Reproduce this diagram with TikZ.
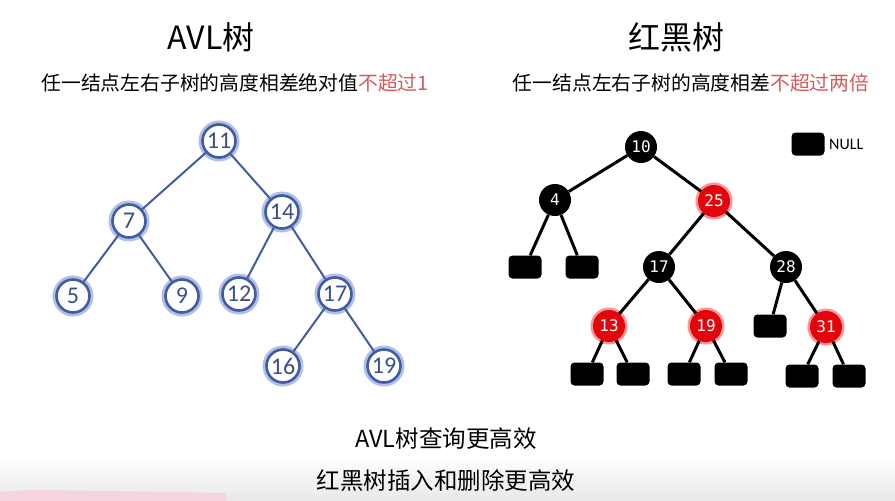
\documentclass[tikz,border=0pt]{standalone}
\usepackage{fontspec}
\setmainfont{Carlito}
\newfontfamily\cjk{Noto Sans CJK SC}
\newfontfamily\monof{DejaVu Sans Mono}
\definecolor{avlblue}{RGB}{66,92,160}
\definecolor{avltext}{RGB}{58,78,138}
\definecolor{avlglow}{RGB}{176,192,232}
\definecolor{rbred}{RGB}{226,6,12}
\definecolor{rbglow}{RGB}{246,150,150}
\definecolor{hl}{RGB}{212,92,92}
\definecolor{pinkstrip}{RGB}{246,212,222}
\tikzset{
  avl/.style={circle, draw=avlblue, line width=2.6pt, fill=white, minimum size=33pt, inner sep=0pt,
    text=avltext, font=\fontsize{24}{24}\selectfont, preaction={draw=avlglow, line width=8pt}},
  rbb/.style={circle, fill=black, minimum size=32pt, inner sep=0pt, text=white,
    font=\monof\fontsize{16}{16}\selectfont},
  rbr/.style={rbb, fill=rbred, preaction={draw=rbglow, line width=5pt}},
  nullbox/.style={rectangle, rounded corners=4pt, fill=black, minimum width=33pt, minimum height=23pt, inner sep=0pt},
  avledge/.style={draw=avlblue, line width=2pt},
  rbedge/.style={draw=black, line width=3pt},
  title/.style={font=\cjk\fontsize{32}{32}\selectfont, text=black},
  sub/.style={font=\cjk\fontsize{19.8}{20}\selectfont, text=black, inner sep=0pt},
  bottom/.style={font=\cjk\fontsize{23.5}{24}\selectfont, text=black, inner sep=0pt}
}
\begin{document}
\begin{tikzpicture}[x=1pt, y=-1pt]
\useasboundingbox (0,0) rectangle (895,501);
\fill[white] (0,0) rectangle (895,501);
\shade[top color=white, bottom color=black!9] (0,455) rectangle (895,501);
\fill[pinkstrip] (0,492) -- (30,490) -- (110,491) -- (226,493) -- (226,501) -- (0,501) -- cycle;

% titles
\node[title] (t1) at (211,37) {AVL树};
\node[title] (t2) at (676,37) {红黑树};
\node[sub] (s1) at (235,83) {任一结点左右子树的高度相差绝对值\textcolor{hl}{不超过1}};
\node[sub] (s2) at (691,83) {任一结点左右子树的高度相差\textcolor{hl}{不超过两倍}};

% AVL tree
\node[avl] (a11) at (219,141) {11};
\node[avl] (a7) at (129,221) {7};
\node[avl] (a14) at (282,212) {14};
\node[avl] (a5) at (73,296) {5};
\node[avl] (a9) at (182,296) {9};
\node[avl] (a12) at (239,294) {12};
\node[avl] (a17) at (335,294) {17};
\node[avl] (a16) at (283,366) {16};
\node[avl] (a19) at (384,366) {19};
\draw[avledge] (a11) -- (a7);
\draw[avledge] (a11) -- (a14);
\draw[avledge] (a7) -- (a5);
\draw[avledge] (a7) -- (a9);
\draw[avledge] (a14) -- (a12);
\draw[avledge] (a14) -- (a17);
\draw[avledge] (a17) -- (a16);
\draw[avledge] (a17) -- (a19);

% Red-black tree
\node[rbb] (r10) at (641,147) {10};
\node[rbb] (r4) at (555,200) {4};
\node[rbr] (r25) at (714,201) {25};
\node[rbb] (r17) at (659,267) {17};
\node[rbb] (r28) at (786,267) {28};
\node[rbr] (r13) at (609,326) {13};
\node[rbr] (r19) at (706,326) {19};
\node[rbr] (r31) at (826,327) {31};
\node[nullbox] (n1) at (525,267) {};
\node[nullbox] (n2) at (582,267) {};
\node[nullbox] (n3) at (587,374) {};
\node[nullbox] (n4) at (633,374) {};
\node[nullbox] (n5) at (684,374) {};
\node[nullbox] (n6) at (731,374) {};
\node[nullbox] (n7) at (770,326) {};
\node[nullbox] (n8) at (802,376) {};
\node[nullbox] (n9) at (849,376) {};
\draw[rbedge] (r10) -- (r4);
\draw[rbedge] (r10) -- (r25);
\draw[rbedge] (r4) -- (n1);
\draw[rbedge] (r4) -- (n2);
\draw[rbedge] (r25) -- (r17);
\draw[rbedge] (r25) -- (r28);
\draw[rbedge] (r17) -- (r13);
\draw[rbedge] (r17) -- (r19);
\draw[rbedge] (r28) -- (n7);
\draw[rbedge] (r28) -- (r31);
\draw[rbedge] (r13) -- (n3);
\draw[rbedge] (r13) -- (n4);
\draw[rbedge] (r19) -- (n5);
\draw[rbedge] (r19) -- (n6);
\draw[rbedge] (r31) -- (n8);
\draw[rbedge] (r31) -- (n9);

% legend
\node[nullbox] (lg) at (808,144) {};
\node[font=\fontsize{16}{16}\selectfont, anchor=west, inner sep=0pt] (lgt) at (829,144) {NULL};

% bottom text
\node[bottom] (b1) at (446,439) {AVL树查询更高效};
\node[bottom] (b2) at (446,481) {红黑树插入和删除更高效};
\end{tikzpicture}
\end{document}
